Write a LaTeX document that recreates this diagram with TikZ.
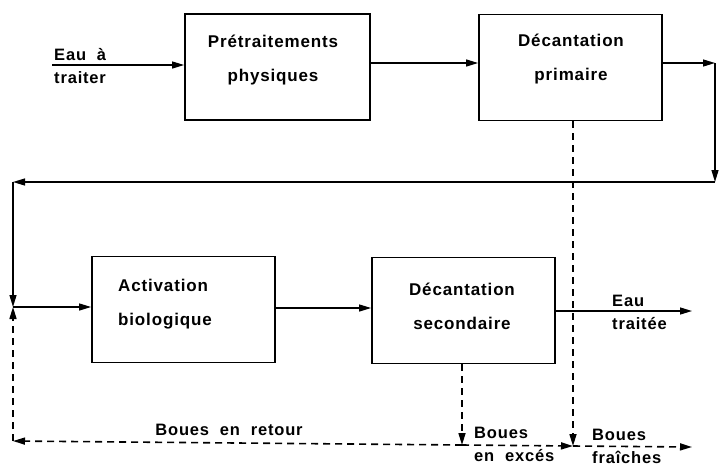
\documentclass[tikz,border=0pt]{standalone}
\usepackage{fontspec}
\setmainfont{Liberation Sans}[LetterSpace=5, WordSpace=2]
\usetikzlibrary{arrows.meta}
\begin{document}
\begin{tikzpicture}[x=1pt,y=-1pt,
  box/.style={draw, line width=1.8pt, minimum width=#1, minimum height=106pt, inner sep=0pt},
  txt/.style={font=\bfseries\fontsize{17}{34}\selectfont, inner sep=0pt, align=center},
  lbl/.style={font=\bfseries\fontsize{16.5}{23}\selectfont, inner sep=0pt, align=left, anchor=west},
  flow/.style={line width=1.3pt, -{Triangle[length=12pt,width=7pt]}},
  dflow/.style={line width=1.6pt, dash pattern=on 7pt off 5pt, -{Triangle[length=12pt,width=7pt]}}]
\useasboundingbox (0,0) rectangle (720,467);
% boxes
\node[box=185pt] (b1) at (277.5,67) {};
\node[box=183pt] (b2) at (570.5,67.5) {};
\node[box=183pt] (b3) at (183.5,309.5) {};
\node[box=183pt] (b4) at (463.5,310.5) {};
\node[txt] (t1) at (273,60) {Prétraitements\\physiques};
\node[txt] (t2) at (571,59) {Décantation\\primaire};
\node[txt, align=left, anchor=west] (t3) at (118,304) {Activation\\biologique};
\node[txt] (t4) at (462,306) {Décantation\\secondaire};
% coordinates
\coordinate (in) at (52,65);
\coordinate (m12) at (420,63);
\coordinate (c1) at (715,63);
\coordinate (c2) at (715,182);
\coordinate (c3) at (13,182);
\coordinate (jn) at (13,307);
\coordinate (m34) at (320,308);
\coordinate (out) at (692,311);
\coordinate (jL) at (13,441);
\coordinate (jE) at (462,445);
\coordinate (jF) at (573,446);
\coordinate (endF) at (692,447);
% solid flows
\draw[flow] (in) -- (in -| b1.west);
\draw[flow] (m12 -| b1.east) -- (m12 -| b2.west);
\draw[flow] (b2.east |- c1) -- (c1);
\draw[flow] (c1) -- (c2);
\draw[flow] (c2) -- (c3);
\draw[flow] (c3) -- (jn);
\draw[flow] (jn) -- (jn -| b3.west);
\draw[flow] (m34 -| b3.east) -- (m34 -| b4.west);
\draw[flow] (b4.east |- out) -- (out);
% dashed sludge lines
\draw[dflow] (jE |- b4.south) -- (jE);
\draw[dflow] (jF |- b2.south) -- (jF);
\draw[dflow] (jE) -- (jL);
\draw[dflow] (jL) -- (jn);
\draw[dflow] (jE) -- (jF);
\draw[dflow] (jF) -- (endF);
% labels
\node[lbl] (l1) at (54,66) {Eau à\\traiter};
\node[lbl] (l2) at (612,312) {Eau\\traitée};
\node[lbl, anchor=center] (l3) at (229,430) {Boues en retour};
\node[lbl] (l4) at (474,444) {Boues\\en excés};
\node[lbl] (l5) at (592,446) {Boues\\fraîches};
\end{tikzpicture}
\end{document}
